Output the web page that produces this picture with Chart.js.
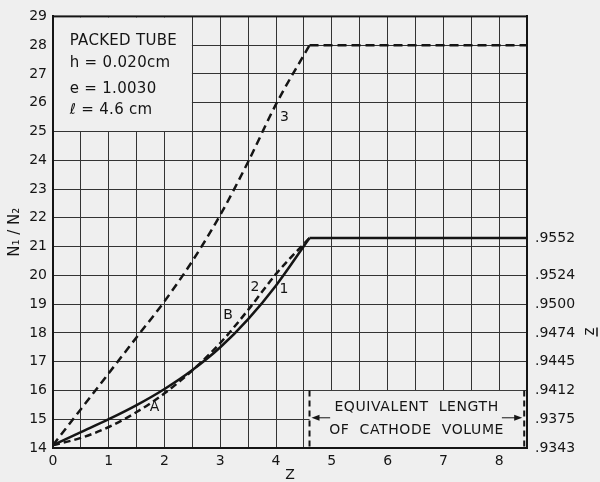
<!DOCTYPE html>
<html>
<head>
<meta charset="utf-8">
<script src="https://cdn.jsdelivr.net/npm/chart.js@4.4.1/dist/chart.umd.min.js"></script>
<style>
  html, body { margin: 0; padding: 0; background: #efefef; }
</style>
</head>
<body>
<canvas id="chart" width="600" height="482"></canvas>
<script>
// rising part of the curves (Z values shared)
const zRise = [0, 0.5, 1, 1.5, 2, 2.5, 3, 3.5, 4, 4.6];
const curve1 = [14.1, 14.55, 15.0, 15.49, 16.05, 16.71, 17.5, 18.48, 19.65, 21.3];
const curve2 = [14.1, 14.35, 14.73, 15.25, 15.9, 16.7, 17.65, 18.8, 20.05, 21.3];
const curve3 = [14.1, 15.35, 16.6, 17.85, 19.1, 20.5, 22.1, 23.95, 25.95, 28.0];

// flat part after the tube length
const zFlat = [4.6, 8.5];
const flat1 = [21.3, 21.3];
const flat3 = [28.0, 28.0];

// right axis (z bar)
const rightTickValues = [14, 15, 16, 17, 18, 19, 20, 21.3];
const rightTickLabels = [".9343", ".9375", ".9412", ".9445", ".9474", ".9500", ".9524", ".9552"];

// text on the plot
const infoLines = ["PACKED TUBE", "h = 0.020cm", "e = 1.0030", "\u2113 = 4.6 cm"];
const curveLabels = [
    { text: "3", x: 4.15, y: 25.5 },
    { text: "2", x: 3.62, y: 19.6 },
    { text: "1", x: 4.14, y: 19.5 },
    { text: "B", x: 3.14, y: 18.6 },
    { text: "A", x: 1.82, y: 15.4 },
];

const PAPER = "#efefef";
const INK = "#151515";
const FONT = "'DejaVu Sans', sans-serif";

function pts(xs, ys) {
    return xs.map((x, i) => ({ x: x, y: ys[i] }));
}

function arrow(ctx, fromX, toX, py) {
    const dir = toX > fromX ? 1 : -1;
    ctx.beginPath();
    ctx.moveTo(fromX, py);
    ctx.lineTo(toX - dir * 6, py);
    ctx.stroke();
    ctx.beginPath();
    ctx.moveTo(toX, py);
    ctx.lineTo(toX - dir * 8, py - 3);
    ctx.lineTo(toX - dir * 8, py + 3);
    ctx.closePath();
    ctx.fill();
}

const paperPlugin = {
    id: "paper",
    beforeDraw(chart) {
        const ctx = chart.ctx;
        ctx.save();
        ctx.fillStyle = PAPER;
        ctx.fillRect(0, 0, chart.width, chart.height);
        ctx.restore();
    },
    beforeDatasetsDraw(chart) {
        const { ctx, chartArea: a, scales: { x, y } } = chart;
        ctx.save();
        ctx.fillStyle = PAPER;
        // info box top-left (grid hidden)
        ctx.fillRect(a.left + 1, a.top + 1, x.getPixelForValue(2.5) - a.left - 1.5, y.getPixelForValue(25) - a.top - 1.5);
        // cathode volume box
        const bx0 = x.getPixelForValue(4.6);
        ctx.fillRect(bx0, y.getPixelForValue(16) + 0.5, a.right - bx0 - 1, a.bottom - y.getPixelForValue(16) - 1.5);

        // frame
        ctx.strokeStyle = INK;
        ctx.lineWidth = 2;
        ctx.strokeRect(a.left, a.top, a.right - a.left, a.bottom - a.top);

        // dashed box edges
        ctx.setLineDash([6, 4]);
        [4.6, 8.45].forEach(v => {
            const px = x.getPixelForValue(v);
            ctx.beginPath();
            ctx.moveTo(px, y.getPixelForValue(16));
            ctx.lineTo(px, a.bottom);
            ctx.stroke();
        });
        ctx.setLineDash([]);

        // arrows
        ctx.lineWidth = 1;
        ctx.fillStyle = INK;
        arrow(ctx, x.getPixelForValue(4.97), x.getPixelForValue(4.6) + 2, y.getPixelForValue(15.05));
        arrow(ctx, x.getPixelForValue(8.05), x.getPixelForValue(8.45) - 2, y.getPixelForValue(15.05));

        // texts
        ctx.fillStyle = INK;
        ctx.textBaseline = "middle";
        ctx.textAlign = "center";
        ctx.font = "14px " + FONT;
        ctx.letterSpacing = "0.6px";
        ctx.fillText("EQUIVALENT  LENGTH", x.getPixelForValue(6.52), y.getPixelForValue(15.4));
        ctx.fillText("OF  CATHODE  VOLUME", x.getPixelForValue(6.52), y.getPixelForValue(14.6));

        ctx.textAlign = "left";
        ctx.font = "15px " + FONT;
        ctx.letterSpacing = "0.3px";
        const infoY = [28.13, 27.36, 26.49, 25.73];
        infoLines.forEach((t, i) => ctx.fillText(t, x.getPixelForValue(0.3), y.getPixelForValue(infoY[i])));

        ctx.textAlign = "center";
        ctx.font = "14px " + FONT;
        ctx.letterSpacing = "0px";
        curveLabels.forEach(l => ctx.fillText(l.text, x.getPixelForValue(l.x), y.getPixelForValue(l.y)));

        // right axis title (z with bar), rotated
        ctx.translate(590, y.getPixelForValue(18.05));
        ctx.rotate(Math.PI / 2);
        ctx.font = "15px " + FONT;
        ctx.fillText("z", 0, 1);
        ctx.lineWidth = 1.5;
        ctx.beginPath();
        ctx.moveTo(-4, -7);
        ctx.lineTo(5, -7);
        ctx.stroke();
        ctx.restore();
    }
};

const solid = { borderColor: INK, borderWidth: 2.5, pointRadius: 0, fill: false };

new Chart(document.getElementById("chart"), {
    type: "line",
    data: {
        datasets: [
            { ...solid, data: pts(zRise, curve1), cubicInterpolationMode: "monotone" },
            { ...solid, data: pts(zFlat, flat1) },
            { ...solid, data: pts(zRise, curve2), cubicInterpolationMode: "monotone", borderDash: [7, 4] },
            { ...solid, data: pts(zRise, curve3), cubicInterpolationMode: "monotone", borderDash: [8, 5] },
            { ...solid, data: pts(zFlat, flat3), borderDash: [9, 5] },
        ]
    },
    options: {
        responsive: false,
        animation: false,
        devicePixelRatio: 1,
        layout: { padding: { top: 15, left: 0, right: 0, bottom: 0 } },
        plugins: { legend: { display: false }, tooltip: { enabled: false } },
        scales: {
            x: {
                type: "linear",
                min: 0,
                max: 8.5,
                afterFit: s => { s.height = 34; },
                grid: { color: "#333", lineWidth: 1, drawTicks: false },
                border: { display: true, color: INK, width: 2 },
                ticks: {
                    stepSize: 0.5,
                    autoSkip: false,
                    maxRotation: 0,
                    padding: 5,
                    color: INK,
                    font: { family: FONT, size: 14 },
                    callback: v => Number.isInteger(v) ? String(v) : ""
                },
                title: { display: true, text: "Z", color: INK, font: { family: FONT, size: 14, lineHeight: 1 }, padding: { top: 0, bottom: 0 } }
            },
            y: {
                position: "left",
                min: 14,
                max: 29,
                afterFit: s => { s.width = 53; },
                grid: { color: "#333", lineWidth: 1, drawTicks: false },
                border: { display: true, color: INK, width: 2 },
                ticks: { stepSize: 1, padding: 6, color: INK, font: { family: FONT, size: 14 } },
                title: { display: true, text: "N\u2081 / N\u2082", color: INK, font: { family: FONT, size: 15, lineHeight: 1 }, padding: { top: 8, bottom: 0 } }
            },
            y2: {
                position: "right",
                min: 14,
                max: 29,
                afterFit: s => { s.width = 73; },
                afterBuildTicks: s => { s.ticks = rightTickValues.map(v => ({ value: v })); },
                grid: { drawOnChartArea: false, drawTicks: false },
                border: { display: true, color: INK, width: 2 },
                ticks: {
                    padding: 8,
                    color: INK,
                    font: { family: FONT, size: 14 },
                    callback: (v, i) => rightTickLabels[i]
                }
            }
        }
    },
    plugins: [paperPlugin]
});
</script>
</body>
</html>
